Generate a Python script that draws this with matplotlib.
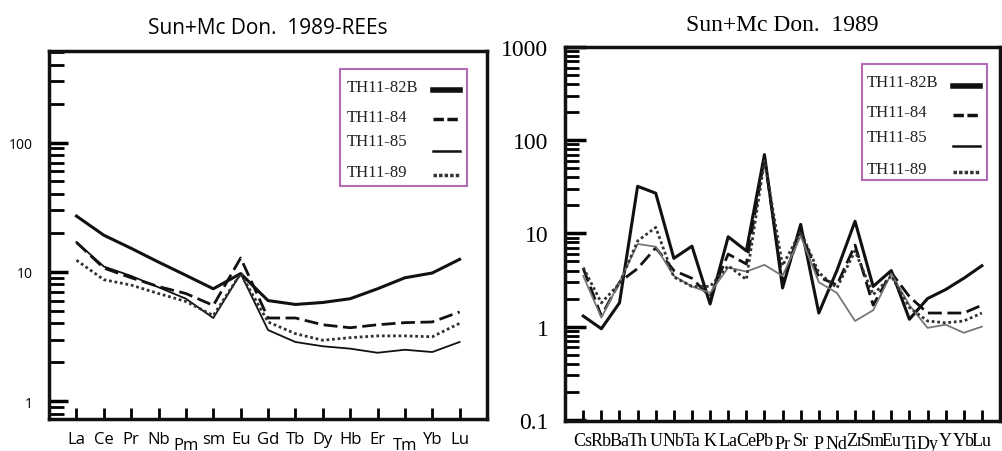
import numpy as np
import matplotlib
matplotlib.use("Agg")
import matplotlib.pyplot as plt
from matplotlib.patches import Rectangle
from matplotlib.ticker import FixedLocator, FixedFormatter, NullFormatter

# REE pattern (left panel)
ree = ["La", "Ce", "Pr", "Nb", "Pm", "sm", "Eu", "Gd", "Tb", "Dy", "Hb", "Er", "Tm", "Yb", "Lu"]
ree_82b = [27, 19.2, 15.2, 11.9, 9.4, 7.4, 9.7, 6.0, 5.6, 5.8, 6.2, 7.4, 9.0, 9.8, 12.5]
ree_84 = [16.9, 10.7, 9.0, 7.7, 6.8, 5.5, 12.8, 4.4, 4.4, 3.9, 3.7, 3.9, 4.05, 4.1, 4.9]
ree_85 = [17.0, 11.0, 9.3, 7.6, 6.2, 4.4, 9.7, 3.55, 2.87, 2.66, 2.55, 2.37, 2.5, 2.4, 2.87]
ree_89 = [12.3, 8.7, 7.9, 6.8, 5.9, 4.6, 9.7, 4.1, 3.33, 2.96, 3.1, 3.2, 3.2, 3.15, 4.0]

# spider diagram (right panel)
spd = ["Cs", "Rb", "Ba", "Th", "U", "Nb", "Ta", "K", "La", "Ce", "Pb", "Pr", "Sr", "P",
       "Nd", "Zr", "Sm", "Eu", "Ti", "Dy", "Y", "Yb", "Lu"]
spd_82b = [1.3, 0.95, 1.8, 32, 27, 5.4, 7.3, 1.75, 9.2, 6.5, 70, 2.6, 12.5, 1.4,
           4.0, 13.5, 2.7, 4.0, 1.2, 2.0, 2.5, 3.3, 4.5]
spd_84 = [4.2, 1.3, 3.0, 4.2, 7.0, 4.0, 3.3, 2.1, 6.0, 4.7, 65, 3.0, 10.5, 3.4,
          2.8, 7.5, 1.7, 3.8, 2.1, 1.4, 1.4, 1.4, 1.7]
spd_85 = [3.5, 1.25, 3.0, 7.7, 7.2, 3.5, 2.7, 2.3, 4.3, 3.9, 4.6, 3.5, 9.4, 3.0,
          2.3, 1.15, 1.5, 3.7, 1.7, 0.97, 1.05, 0.86, 1.0]
spd_89 = [4.3, 1.8, 2.9, 8.3, 11.6, 3.4, 2.7, 2.7, 4.5, 3.2, 60, 4.5, 10.5, 3.8,
          2.6, 6.5, 2.2, 3.5, 1.6, 1.15, 1.1, 1.15, 1.4]

samples = ["TH11-82B", "TH11-84", "TH11-85", "TH11-89"]
left_yticks = [1, 10, 100]
right_yticks = [0.1, 1, 10, 100, 1000]

sans = ["Open Sans", "DejaVu Sans"]
serif = ["Liberation Serif", "DejaVu Serif"]
purple = "#b56ab8"

fig = plt.figure(figsize=(10.02, 4.52), dpi=100)
ax1 = fig.add_axes([0.049, 0.071, 0.437, 0.814])
ax2 = fig.add_axes([0.564, 0.067, 0.434, 0.827])


def styles(gray85):
    return [
        dict(color="#111111", lw=2.2, ls="-"),
        dict(color="#111111", lw=2.0, ls=(0, (5, 2))),
        dict(color=gray85, lw=1.3, ls="-"),
        dict(color="#333333", lw=2.0, ls=(0, (1, 1))),
    ]


def setup(ax, cats, lab_font, lab_size, pad, low_idx, low_pad,
          yt, ylab_font, ylab_size, maj_len, min_len):
    ax.set_yscale("log")
    ax.yaxis.set_major_locator(FixedLocator(yt))
    ax.yaxis.set_major_formatter(FixedFormatter([f"{v:g}" for v in yt]))
    ax.yaxis.set_minor_formatter(NullFormatter())
    ax.set_xlim(-1, len(cats))
    ax.set_xticks(range(len(cats)))
    ax.set_xticklabels(cats, fontfamily=lab_font, fontsize=lab_size)
    ax.tick_params(axis="x", direction="in", length=8, width=2, top=False)
    for i, t in enumerate(ax.xaxis.get_major_ticks()):
        t.set_pad(low_pad if i in low_idx else pad)
    ax.tick_params(axis="y", which="major", direction="in", length=maj_len, width=2.5,
                   right=False, pad=12)
    ax.tick_params(axis="y", which="minor", direction="in", length=min_len, width=2,
                   right=False)
    for lab in ax.get_yticklabels():
        lab.set_fontfamily(ylab_font)
        lab.set_fontsize(ylab_size)
    for s in ax.spines.values():
        s.set_linewidth(2.5)
        s.set_color("#111111")


def key(ax, box, text_x, text_ys, h_x, h_ys):
    # boxed key: label on the left, line sample on the right
    x0, y0, x1, y1 = box
    ax.add_patch(Rectangle((x0, y0), x1 - x0, y1 - y0, transform=ax.transAxes,
                           fill=False, edgecolor=purple, lw=1.5, zorder=5))
    hst = [
        dict(color="#111111", lw=4.0, ls="-"),
        dict(color="#111111", lw=2.5, ls=(0, (3, 1))),
        dict(color="#111111", lw=1.8, ls="-"),
        dict(color="#333333", lw=2.5, ls=(0, (1, 0.6))),
    ]
    for lab, ty, hy, st in zip(samples, text_ys, h_ys, hst):
        ax.text(text_x, ty, lab, transform=ax.transAxes, fontfamily=serif,
                fontsize=12, va="center", ha="left", color="#222222")
        ax.plot(h_x, [hy, hy], transform=ax.transAxes, clip_on=False, **st)


# left panel
x1 = np.arange(len(ree))
for vals, st in zip([ree_82b, ree_84, ree_85, ree_89], styles("#111111")):
    ax1.plot(x1, vals, **st)
ax1.set_ylim(0.73, 510)
setup(ax1, ree, sans, 12, 9, [4, 12], 13, left_yticks, sans, 10, 14, 11)
ax1.set_title("Sun+Mc Don.  1989-REEs", fontfamily=sans, fontsize=15, pad=13)
key(ax1, (0.664, 0.633, 0.954, 0.951), 0.680,
    [0.902, 0.821, 0.755, 0.671], [0.877, 0.938], [0.894, 0.815, 0.728, 0.663])

# right panel
x2 = np.arange(len(spd))
for vals, st in zip([spd_82b, spd_84, spd_85, spd_89], styles("#777777")):
    ax2.plot(x2, vals, **st)
ax2.set_ylim(0.098, 1000)
setup(ax2, spd, serif, 13, 8, [11, 13, 14, 18, 19], 10, right_yticks, serif, 17, 15, 10)
ax2.set_title("Sun+Mc Don.  1989", fontfamily=serif, fontsize=17, pad=12)
key(ax2, (0.683, 0.644, 0.970, 0.955), 0.694,
    [0.906, 0.826, 0.759, 0.674], [0.892, 0.954], [0.896, 0.818, 0.735, 0.666])

fig.savefig("out.png", dpi=100)
